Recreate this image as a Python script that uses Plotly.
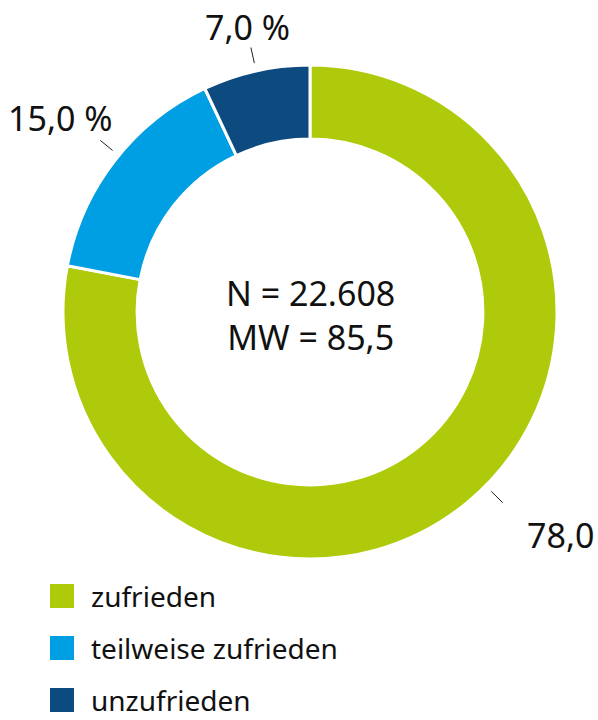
import math
import plotly.graph_objects as go

# data
categories = ["zufrieden", "teilweise zufrieden", "unzufrieden"]
shares = [78.0, 15.0, 7.0]
slice_labels = ["78,0", "15,0 %", "7,0 %"]
colors = ["#AFCA0B", "#009FE3", "#0C4A80"]
center_text = "N = 22.608<br>MW = 85,5"

# layout helpers (pixels)
W, H = 598, 720
CX, CY, R = 310, 312, 247
FONT = "Noto Sans"
# small angle / pixel nudges so labels sit like in the original
angle_nudge = [-5.7, 1.5, 0.0]
label_nudge = [(37, -12), (-17, 4), (3, -8)]


def px_to_paper(x, y):
    return x / W, 1 - y / H


def polar(r, deg):
    a = math.radians(deg)
    return CX + r * math.sin(a), CY - r * math.cos(a)


x0, y0 = px_to_paper(CX - R, CY + R)
x1, y1 = px_to_paper(CX + R, CY - R)

fig = go.Figure(
    go.Pie(
        labels=categories,
        values=shares,
        sort=False,
        direction="clockwise",
        rotation=0,
        hole=0.70,
        textinfo="none",
        marker=dict(colors=colors, line=dict(color="white", width=3)),
        domain=dict(x=[x0, x1], y=[y0, y1]),
        showlegend=False,
    )
)

# outside labels with short leader lines
total = sum(shares)
cum = 0
for i, v in enumerate(shares):
    mid = (cum + v / 2) / total * 360
    cum += v
    theta = mid + angle_nudge[i]
    lx0, ly0 = polar(255, theta)
    lx1, ly1 = polar(271, theta)
    px0, py0 = px_to_paper(lx0, ly0)
    px1, py1 = px_to_paper(lx1, ly1)
    fig.add_shape(type="line", xref="paper", yref="paper",
                  x0=px0, y0=py0, x1=px1, y1=py1,
                  line=dict(color="#222222", width=1))
    tx, ty = px_to_paper(*polar(300, theta))
    fig.add_annotation(x=tx, y=ty, xref="paper", yref="paper",
                       text=slice_labels[i], showarrow=False,
                       xanchor="center", yanchor="middle",
                       xshift=label_nudge[i][0], yshift=label_nudge[i][1],
                       font=dict(family=FONT, size=34, color="#111111"))

# centre text
cx, cy = px_to_paper(CX, CY + 3)
fig.add_annotation(x=cx, y=cy, xref="paper", yref="paper",
                   text=center_text, showarrow=False,
                   xanchor="center", yanchor="middle",
                   font=dict(family=FONT, size=34, color="#111111"))

# custom legend with large square markers
for i, (cat, col) in enumerate(zip(categories, colors)):
    yc = 596 + i * 52
    sx0, sy0 = px_to_paper(50, yc + 12)
    sx1, sy1 = px_to_paper(74, yc - 12)
    fig.add_shape(type="rect", xref="paper", yref="paper",
                  x0=sx0, y0=sy0, x1=sx1, y1=sy1,
                  fillcolor=col, line=dict(width=0))
    tx, ty = px_to_paper(90, yc)
    fig.add_annotation(x=tx, y=ty, xref="paper", yref="paper",
                       text=cat, showarrow=False, borderpad=0,
                       xanchor="left", yanchor="middle",
                       font=dict(family=FONT, size=28, color="#111111"))

fig.update_layout(
    width=W,
    height=H,
    margin=dict(l=0, r=0, t=0, b=0),
    paper_bgcolor="white",
    plot_bgcolor="white",
)

# drop the default 8px body margin so the figure sits flush with the window
fig.write_html("out.html", config={"displayModeBar": False},
               post_script="document.body.style.margin='0';")
